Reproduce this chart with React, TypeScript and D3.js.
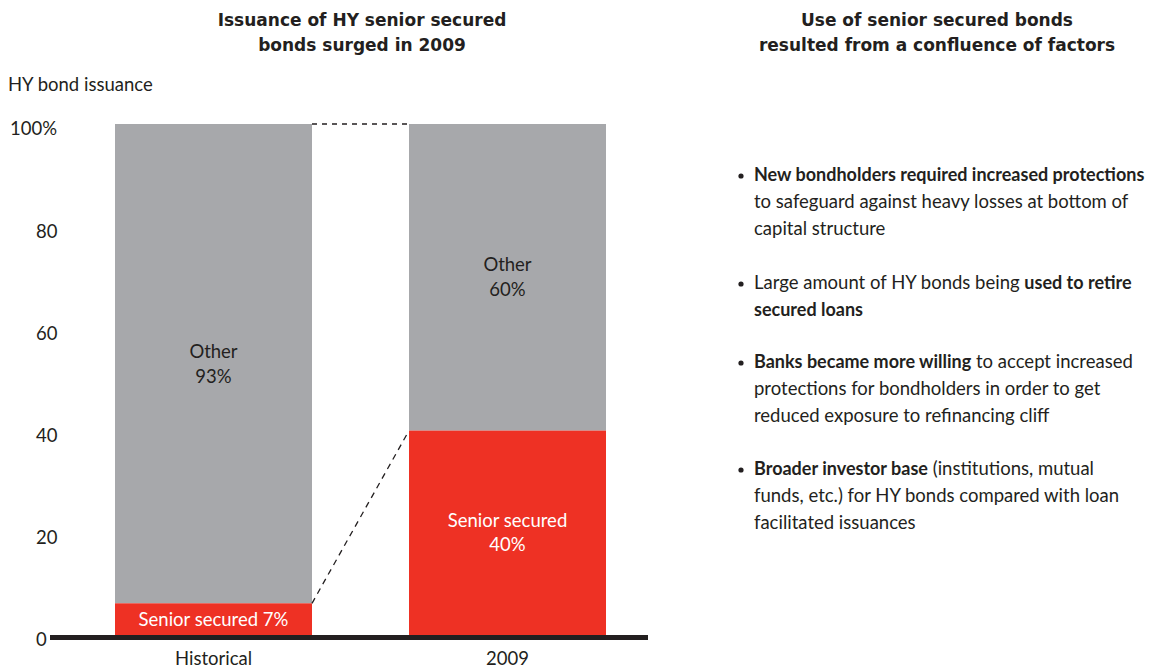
import React from "react";
import * as d3 from "d3";

const categories = ["Historical", "2009"];
const seniorSecured = [6.2, 40];
const other = [93.8, 60];
const seniorLabels = [["Senior secured 7%"], ["Senior secured", "40%"]];
const otherLabels = [["Other", "93%"], ["Other", "60%"]];
const yTicks = [0, 20, 40, 60, 80, 100];
const leftTitle = ["Issuance of HY senior secured", "bonds surged in 2009"];
const rightTitle = ["Use of senior secured bonds", "resulted from a confluence of factors"];
const yAxisTitle = "HY bond issuance";
type Seg = [string, boolean];
const bullets: Seg[][][] = [
  [
    [["New bondholders required increased protections", true]],
    [["to safeguard against heavy losses at bottom of", false]],
    [["capital structure", false]],
  ],
  [
    [["Large amount of HY bonds being ", false], ["used to retire", true]],
    [["secured loans", true]],
  ],
  [
    [["Banks became more willing", true], [" to accept increased", false]],
    [["protections for bondholders in order to get", false]],
    [["reduced exposure to refinancing cliff", false]],
  ],
  [
    [["Broader investor base", true], [" (institutions, mutual", false]],
    [["funds, etc.) for HY bonds compared with loan", false]],
    [["facilitated issuances", false]],
  ],
];
const bulletTops = [175, 283, 362, 469];

const W = 1151;
const H = 670;
const FONT = "Lato, 'Noto Sans', sans-serif";
const TITLE_FONT = "'DejaVu Sans', Lato, sans-serif";
const TEXT = "#231f20";
const GRAY = "#a7a8ab";
const RED = "#ee3124";
const FS = 18.5;

export default function App() {
  const y = d3.scaleLinear().domain([0, 100]).range([635, 124]);
  const x = d3.scaleBand().domain(categories).range([115, 606]).paddingInner(97 / 294).paddingOuter(0);
  const bw = x.bandwidth();
  const x0 = x(categories[0])!;
  const x1 = x(categories[1])!;

  return (
    <svg width={W} height={H} style={{ position: "absolute", left: 0, top: 0 }} fontFamily={FONT}>
      <rect width={W} height={H} fill="#fff" />
      {leftTitle.map((t, i) => (
        <text key={t} x={362} y={20 + i * 25} dy="0.35em" textAnchor="middle" fontFamily={TITLE_FONT} fontWeight={700} fontSize={17} fill={TEXT}>{t}</text>
      ))}
      {rightTitle.map((t, i) => (
        <text key={t} x={937} y={20 + i * 25} dy="0.35em" textAnchor="middle" fontFamily={TITLE_FONT} fontWeight={700} fontSize={17} fill={TEXT}>{t}</text>
      ))}
      <text x={8} y={85} dy="0.35em" fontSize={FS} fill={TEXT}>{yAxisTitle}</text>
      {yTicks.map((t) => (
        <text key={t} x={t === 100 ? 10 : 36} y={y(t) + 5} dy="0.35em" fontSize={FS} fill={TEXT}>
          {t === 100 ? "100%" : String(t)}
        </text>
      ))}
      {categories.map((c, i) => (
        <g key={c}>
          <rect x={x(c)} y={y(seniorSecured[i] + other[i])} width={bw} height={y(seniorSecured[i]) - y(seniorSecured[i] + other[i])} fill={GRAY} />
          <rect x={x(c)} y={y(seniorSecured[i])} width={bw} height={y(0) - y(seniorSecured[i])} fill={RED} />
          {(() => {
            const mid = (y(seniorSecured[i]) + y(seniorSecured[i] + other[i])) / 2;
            const lines = otherLabels[i];
            return lines.map((l, k) => (
              <text key={k} x={x(c)! + bw / 2} y={mid + (k - (lines.length - 1) / 2) * 25} dy="0.35em" textAnchor="middle" fontSize={FS} fill={TEXT}>{l}</text>
            ));
          })()}
          {(() => {
            const mid = (y(0) + y(seniorSecured[i])) / 2;
            const lines = seniorLabels[i];
            return lines.map((l, k) => (
              <text key={k} x={x(c)! + bw / 2} y={mid + (k - (lines.length - 1) / 2) * 24} dy="0.35em" textAnchor="middle" fontSize={FS} fill="#fff">{l}</text>
            ));
          })()}
          <text x={x(c)! + bw / 2} y={659} dy="0.35em" textAnchor="middle" fontSize={FS} fill={TEXT}>{c}</text>
        </g>
      ))}
      <line x1={x0 + bw} x2={x1} y1={y(100)} y2={y(100)} stroke={TEXT} strokeWidth={1.3} strokeDasharray="5,5" />
      <line x1={x0 + bw} x2={x1} y1={y(seniorSecured[0])} y2={y(seniorSecured[1])} stroke={TEXT} strokeWidth={1.3} strokeDasharray="6,5" />
      <line x1={50} x2={648} y1={y(0) + 2.5} y2={y(0) + 2.5} stroke={TEXT} strokeWidth={5} />
      {bullets.map((b, bi) => (
        <g key={bi}>
          <circle cx={741} cy={bulletTops[bi] + 1} r={2.6} fill={TEXT} />
          {b.map((line, li) => (
            <text key={li} x={754} y={bulletTops[bi] + li * 27} dy="0.35em" fontSize={FS} fill={TEXT}>
              {line.map(([s, bold], si) => (
                <tspan key={si} fontWeight={bold ? 700 : 400} fontSize={bold ? 18 : FS} style={{ whiteSpace: "pre" }}>{s}</tspan>
              ))}
            </text>
          ))}
        </g>
      ))}
    </svg>
  );
}
